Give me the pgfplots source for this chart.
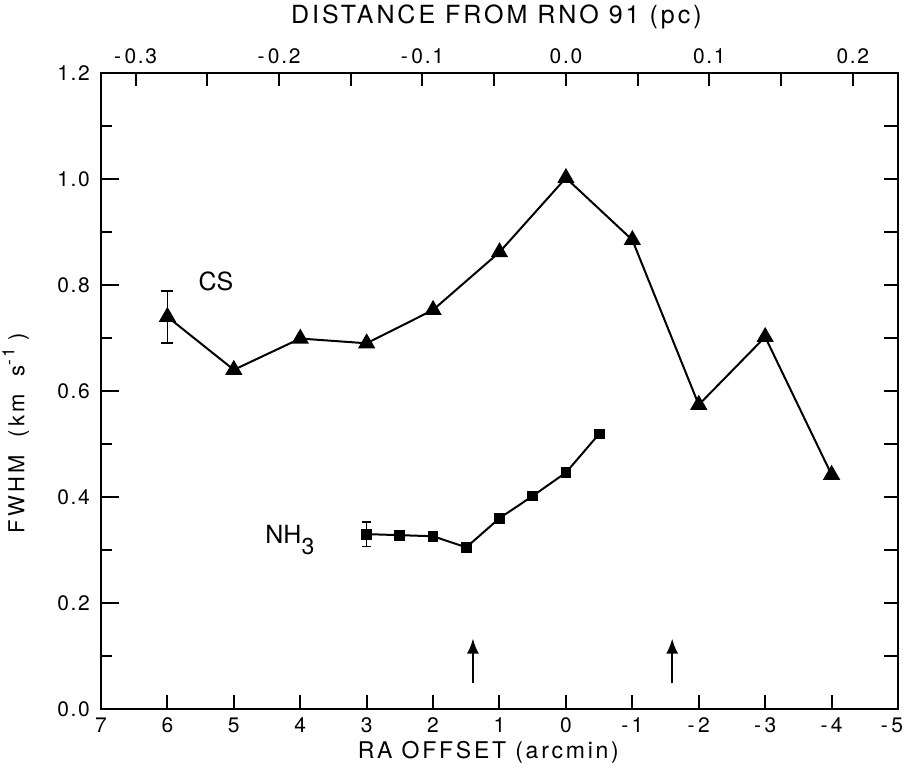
\documentclass[border=0pt]{standalone}
\usepackage{fontspec}
\setmainfont{TeX Gyre Heros}[LetterSpace=8]
\newfontfamily\lblfont{TeX Gyre Heros}
\newfontfamily\titlefont{TeX Gyre Heros}[LetterSpace=12]
\newfontfamily\ylabfont{TeX Gyre Heros}[LetterSpace=15]
\usepackage{pgfplots}
\pgfplotsset{compat=1.18}
\usetikzlibrary{arrows.meta}
\pgfplotsset{
  base/.style={
    width=398.5pt, height=318pt, scale only axis,
    xmin=-5, xmax=7, x dir=reverse, ymin=0, ymax=1.2,
    axis line style={line width=1.2pt},
    every tick/.style={line width=1pt, black},
    tick align=inside,
    at={(0,0)}, anchor=south west,
    clip=false,
  }
}
\begin{document}
\begin{tikzpicture}
% main data axis, bottom ticks
\begin{axis}[base, name=a1,
  xtick={-5,-4,-3,-2,-1,0,1,2,3,4,5,6,7},
  xticklabels={{\hspace*{-6pt}-\,5},-\,4,-\,3,-\,2,-\,1,0,1,2,3,4,5,6,7},
  xtick pos=left,
  ytick=\empty,
  major tick length=7pt,
  xticklabel style={font=\fontsize{10.5}{12}\selectfont, yshift=-1pt},
  xlabel={RA OFFSET (arcmin)},
  xlabel style={font=\titlefont\fontsize{11.5}{13}\selectfont, at={(axis description cs:0.486,-0.068)}, anchor=center},
]
\addplot[black, line width=1pt, mark=triangle*, mark size=4pt, mark options={solid}]
  coordinates {(6,0.740)(5,0.640)(4,0.699)(3,0.690)(2,0.753)(1,0.862)(0,1.002)(-1,0.885)(-2,0.574)(-3,0.702)(-4,0.442)};
\addplot[black, line width=0.8pt, mark=none, forget plot,
  error bars/.cd, y dir=both, y explicit,
  error bar style={line width=0.8pt, black},
  error mark options={rotate=90, mark size=3pt, line width=0.8pt, black}]
  coordinates {(6,0.740) +- (0,0.049)};
\addplot[black, line width=1pt, mark=square*, mark size=2.2pt, mark options={solid}]
  coordinates {(3,0.330)(2.5,0.328)(2,0.326)(1.5,0.305)(1,0.360)(0.5,0.402)(0,0.446)(-0.5,0.519)};
\addplot[black, line width=0.8pt, mark=none, forget plot,
  error bars/.cd, y dir=both, y explicit,
  error bar style={line width=0.8pt, black},
  error mark options={rotate=90, mark size=2.3pt, line width=0.8pt, black}]
  coordinates {(3,0.330) +- (0,0.023)};
% arrows
\addplot[black, line width=1pt, -{Latex[length=7.5pt,width=6pt]}] coordinates {(1.4,0.0485)(1.4,0.133)};
\addplot[black, line width=1pt, -{Latex[length=7.5pt,width=6pt]}] coordinates {(-1.6,0.0485)(-1.6,0.133)};
\node[font=\lblfont\fontsize{12.5}{14}\selectfont, anchor=base west, inner sep=0pt] at (axis cs:5.535,0.789) {CS};
\node[font=\lblfont\fontsize{12.5}{14}\selectfont, anchor=base west, inner sep=0pt] at (axis cs:4.53,0.3126) {NH\raisebox{-5.5pt}{\fontsize{11.5}{13}\selectfont 3}};
\end{axis}
% left y ticks with labels
\begin{axis}[base,
  xtick=\empty,
  ytick={0,0.2,0.4,0.6,0.8,1.0,1.2},
  yticklabels={0.0,0.2,0.4,0.6,0.8,1.0,1.2},
  minor ytick={0.1,0.3,0.5,0.7,0.9,1.1},
  ytick pos=left,
  major tick length=9pt, minor tick length=5.5pt,
  yticklabel style={font=\fontsize{10.5}{12}\selectfont, xshift=-2pt},
  ylabel={FWHM\hspace{0.8em}(km\hspace{0.8em}s\raisebox{0.45em}{\fontsize{8.5}{10}\selectfont -1}\hspace{0.35em})},
  ylabel style={font=\ylabfont\fontsize{11}{13}\selectfont, at={(axis description cs:-0.107,0.434)}, anchor=center},
]
\end{axis}
% right y ticks
\begin{axis}[base,
  xtick=\empty,
  ytick={0,0.1,0.2,0.3,0.4,0.5,0.6,0.7,0.8,0.9,1.0,1.1,1.2},
  yticklabels={},
  ytick pos=right,
  major tick length=7pt,
]
\end{axis}
% top axis in pc
\begin{axis}[
  width=398.5pt, height=318pt, scale only axis,
  at={(0,0)}, anchor=south west, clip=false,
  xmin=-0.3241, xmax=0.2315, ymin=0, ymax=1.2,
  axis line style={line width=1.2pt},
  every tick/.style={line width=1pt, black},
  tick align=inside,
  xtick={-0.3,-0.2,-0.1,0,0.1,0.2},
  xticklabels={-\,0.3,-\,0.2,-\,0.1,0.0,0.1,0.2},
  minor xtick={-0.25,-0.15,-0.05,0.05,0.15},
  xtick pos=right,
  ytick=\empty,
  major tick length=6.5pt, minor tick length=6.5pt,
  xticklabel style={font=\fontsize{10.5}{12}\selectfont, yshift=1pt},
]
\node[font=\titlefont\fontsize{12.5}{14}\selectfont, anchor=center] at (axis description cs:0.496,1.0885) {DISTANCE FROM RNO 91 (pc)};
\end{axis}
\pgfresetboundingbox
\path ([shift={(-50.5pt,-33.5pt)}]a1.south west) rectangle ([shift={(3pt,36.5pt)}]a1.north east);
\end{tikzpicture}
\end{document}
